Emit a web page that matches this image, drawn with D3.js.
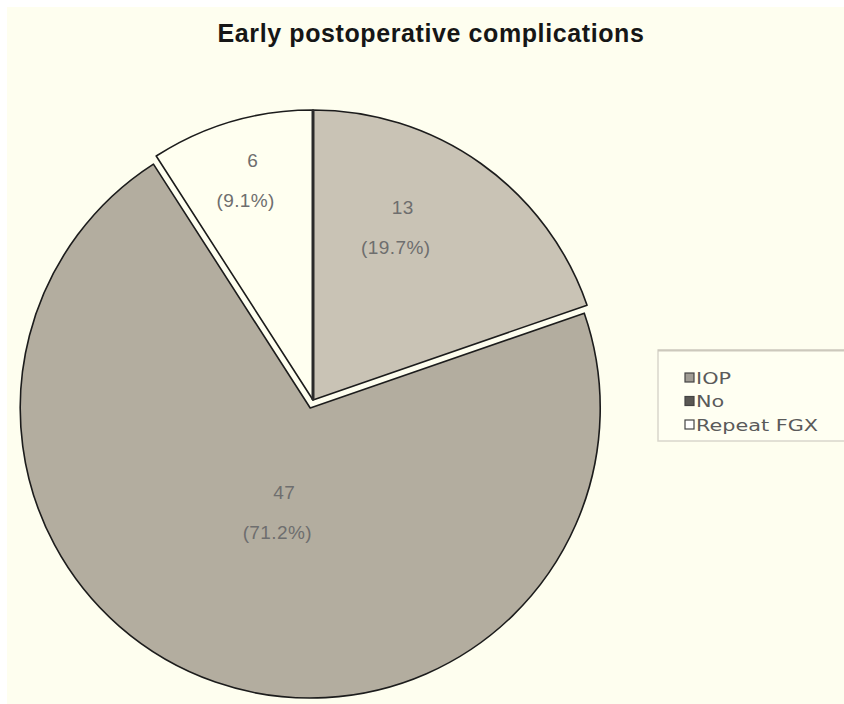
<!DOCTYPE html>
<html>
<head>
<meta charset="utf-8">
<script src="https://cdn.jsdelivr.net/npm/d3@7"></script>
<style>
  html, body { margin: 0; padding: 0; background: #ffffff; }
  svg { display: block; }
  .slice-label { font-family: "Liberation Sans", Arial, sans-serif; font-size: 19px; fill: #6e6e6e; letter-spacing: 0.4px; }
  .legend-label { font-family: "DejaVu Sans", Verdana, sans-serif; font-size: 16px; fill: #5a5a5a; }
</style>
</head>
<body>
<div id="chart"></div>
<script>
// Early postoperative complications - pie chart

const categories = ['IOP', 'No', 'Repeat FGX'];
const counts = [13, 47, 6];
const percentLabels = ['19.7%', '71.2%', '9.1%'];

const sliceColors = ['#c9c3b5', '#b3ad9f', '#fffff0'];
const legendColors = ['#a09c94', '#5a5854', '#ffffff'];

const width = 844;
const height = 704;

const svg = d3.select('#chart').append('svg')
  .attr('width', width)
  .attr('height', height);

// cream plot background with small white margin
svg.append('rect')
  .attr('x', 7).attr('y', 7)
  .attr('width', width - 7).attr('height', height - 7)
  .attr('fill', '#fefeef');

svg.append('text')
  .attr('x', 431)
  .attr('y', 42)
  .attr('text-anchor', 'middle')
  .style('font-family', '"Liberation Sans", Arial, sans-serif')
  .style('font-weight', 'bold')
  .style('font-size', '25px')
  .style('letter-spacing', '0.6px')
  .attr('fill', '#161616')
  .text('Early postoperative complications');

const cx = 313, cy = 400;
const radius = 290;

// IOP starts at 12 o'clock and goes clockwise
const pie = d3.pie().sort(null).value(d => d);
const arcs = pie(counts);

const arc = d3.arc().innerRadius(0).outerRadius(radius);

// "No" slice sits pulled away from the rest
const explode = [0, 8.5, 0];
const labelRadius = [0.67, 0.37, 0.79];
const labelTurn = [-0.15, -0.07, 0.01];

const g = svg.append('g').attr('transform', `translate(${cx},${cy})`);

const slices = g.selectAll('.slice')
  .data(arcs)
  .enter()
  .append('g')
  .attr('class', 'slice')
  .attr('transform', (d, i) => {
    const mid = (d.startAngle + d.endAngle) / 2;
    return `translate(${Math.sin(mid) * explode[i]},${-Math.cos(mid) * explode[i]})`;
  });

slices.append('path')
  .attr('d', arc)
  .attr('fill', (d, i) => sliceColors[i])
  .attr('stroke', '#1c1c1c')
  .attr('stroke-width', 1.6)
  .attr('stroke-linejoin', 'round');

// thick divider between IOP and Repeat FGX at 12 o'clock
g.append('line')
  .attr('x1', 0).attr('y1', 0)
  .attr('x2', 0).attr('y2', -radius)
  .attr('stroke', '#2a2a2a')
  .attr('stroke-width', 3);

slices.each(function (d, i) {
  const mid = (d.startAngle + d.endAngle) / 2 + labelTurn[i];
  const r = radius * labelRadius[i];
  const lx = Math.sin(mid) * r;
  const ly = -Math.cos(mid) * r;
  const sel = d3.select(this);
  sel.append('text')
    .attr('class', 'slice-label')
    .attr('x', lx + 2).attr('y', ly - 13)
    .attr('text-anchor', 'middle')
    .text(counts[i]);
  sel.append('text')
    .attr('class', 'slice-label')
    .attr('x', lx - 5).attr('y', ly + 27)
    .attr('text-anchor', 'middle')
    .text(`(${percentLabels[i]})`);
});

// legend
const legend = svg.append('g').attr('transform', 'translate(658,350)');
legend.append('rect')
  .attr('x', 0).attr('y', 0)
  .attr('width', 200).attr('height', 91)
  .attr('fill', '#fffff2')
  .attr('stroke', '#d9d6cc')
  .attr('stroke-width', 1.5);
legend.append('line')
  .attr('x1', 0).attr('y1', 0.5).attr('x2', 200).attr('y2', 0.5)
  .attr('stroke', '#cdc9bd').attr('stroke-width', 2);

const items = legend.selectAll('.legend-item')
  .data(categories)
  .enter()
  .append('g')
  .attr('class', 'legend-item')
  .attr('transform', (d, i) => `translate(27,${27.5 + i * 23.5})`);

items.append('rect')
  .attr('x', 0).attr('y', -4.5)
  .attr('width', 9).attr('height', 9)
  .attr('fill', (d, i) => legendColors[i])
  .attr('stroke', '#444')
  .attr('stroke-width', 1.2);

items.append('text')
  .attr('class', 'legend-label')
  .attr('transform', 'translate(11,6) scale(1.3,1)')
  .text(d => d);
</script>
</body>
</html>
